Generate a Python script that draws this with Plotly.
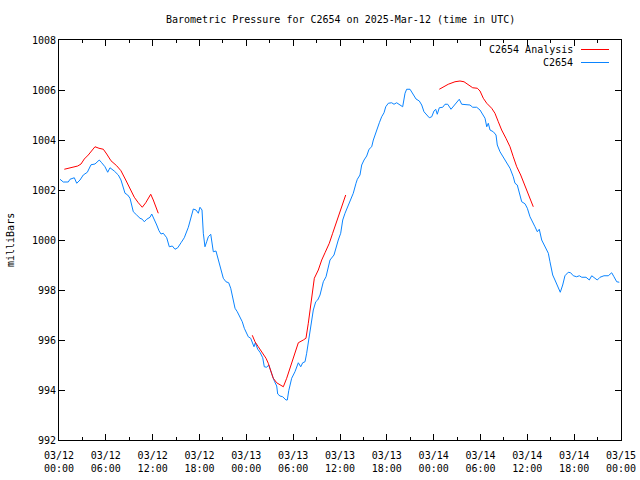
import datetime as dt
import plotly.graph_objects as go

# ---- data (hours after 2025-03-12 00:00 UTC, pressure in mbar) ----
station_hours = [0.13, 0.55, 1.19, 1.41, 1.96, 2.27, 2.69, 3.11, 3.63, 4.10, 4.61, 5.16, 5.47, 5.89,
                 6.24, 6.53, 7.08, 7.60, 7.94, 8.24, 8.46, 8.80, 9.10, 9.31, 9.52, 9.95, 10.38, 10.67,
                 10.93, 11.24, 11.66, 11.88, 12.21, 12.52, 12.81, 13.07, 13.36, 13.80, 14.13, 14.52,
                 14.86, 15.21, 15.63, 16.05, 16.57, 17.00, 17.21, 17.55, 17.85, 18.06, 18.32, 18.49,
                 18.70, 18.92, 19.13, 19.44, 19.60, 19.77, 20.11, 20.41, 20.72, 21.05, 21.39, 21.74,
                 22.00, 22.25, 22.55, 22.84, 23.19, 23.48, 23.74, 24.05, 24.25, 24.56, 24.82, 24.98,
                 25.15, 25.46, 25.75, 26.10, 26.30, 26.61, 26.87, 27.12, 27.38, 27.63, 27.89, 28.02,
                 28.31, 28.66, 28.86, 29.08, 29.25, 29.43, 29.81, 30.23, 30.66, 30.97, 31.22, 31.52,
                 31.73, 31.94, 32.16, 32.37, 32.58, 32.89, 33.14, 33.44, 33.66, 33.86, 34.21, 34.50,
                 34.72, 35.23, 35.45, 35.78, 36.09, 36.35, 36.64, 36.93, 37.28, 37.70, 38.05, 38.22,
                 38.56, 38.78, 39.08, 39.42, 39.72, 40.06, 40.27, 40.48, 40.78, 41.04, 41.34, 41.64,
                 41.86, 42.19, 42.62, 42.92, 43.26, 43.60, 44.03, 44.33, 44.54, 44.97, 45.31, 45.74,
                 46.16, 46.47, 46.76, 47.02, 47.44, 47.75, 48.04, 48.26, 48.46, 48.72, 49.16, 49.45,
                 49.80, 50.22, 50.73, 51.28, 51.59, 52.14, 52.65, 53.00, 53.51, 53.94, 54.28, 54.58,
                 54.80, 55.00, 55.22, 55.64, 55.99, 56.15, 56.50, 56.92, 57.36, 57.78, 58.20, 58.42,
                 58.71, 58.97, 59.28, 59.70, 60.00, 60.34, 60.69, 60.98, 61.28, 61.53, 61.84, 62.26,
                 62.69, 62.90, 63.25, 63.54, 63.84, 64.22, 64.53, 64.82, 65.24, 65.55, 65.89, 66.32,
                 66.66, 66.97, 67.52, 67.94, 68.25, 68.67, 68.96, 69.31, 69.82, 70.37, 70.81, 71.10,
                 71.45, 71.78]
station_mbar = [1002.43, 1002.32, 1002.32, 1002.43, 1002.49, 1002.27, 1002.40, 1002.60, 1002.71,
                1003.01, 1003.04, 1003.20, 1003.09, 1002.93, 1002.71, 1002.89, 1002.76, 1002.60,
                1002.40, 1002.13, 1001.87, 1001.80, 1001.67, 1001.40, 1001.13, 1001.00, 1000.87,
                1000.83, 1000.73, 1000.83, 1000.91, 1001.04, 1000.84, 1000.60, 1000.37, 1000.24,
                1000.27, 1000.09, 999.73, 999.76, 999.63, 999.69, 999.89, 1000.09, 1000.51,
                1001.03, 1001.24, 1001.20, 1001.07, 1001.31, 1001.20, 1000.27, 999.73, 999.93,
                1000.13, 1000.23, 999.87, 999.53, 999.56, 999.20, 998.80, 998.47, 998.33, 998.29,
                998.07, 997.67, 997.27, 997.13, 996.89, 996.73, 996.47, 996.29, 996.13, 996.07,
                995.87, 995.73, 995.89, 995.63, 995.51, 995.29, 994.93, 994.91, 995.00, 994.73,
                994.53, 994.33, 994.16, 993.84, 993.76, 993.73, 993.67, 993.60, 993.60, 993.97,
                994.47, 994.73, 995.09, 994.93, 995.09, 995.13, 995.47, 995.87, 996.33, 996.80,
                997.20, 997.53, 997.60, 997.80, 998.16, 998.33, 998.53, 998.93, 999.20, 999.40,
                999.67, 1000.00, 1000.27, 1000.80, 1001.07, 1001.27, 1001.53, 1001.87, 1002.27,
                1002.43, 1002.60, 1003.00, 1003.20, 1003.36, 1003.63, 1003.73, 1004.00, 1004.20,
                1004.53, 1004.69, 1004.93, 1005.09, 1005.33, 1005.47, 1005.49, 1005.43, 1005.49,
                1005.43, 1005.33, 1005.87, 1006.03, 1006.03, 1005.83, 1005.64, 1005.56, 1005.40,
                1005.13, 1005.03, 1004.89, 1004.93, 1005.16, 1005.23, 1005.03, 1005.29, 1005.31,
                1005.43, 1005.43, 1005.23, 1005.43, 1005.63, 1005.43, 1005.40, 1005.40, 1005.31,
                1005.31, 1005.20, 1005.00, 1004.87, 1004.53, 1004.67, 1004.40, 1004.33, 1004.20,
                1003.80, 1003.53, 1003.33, 1003.11, 1002.87, 1002.53, 1002.27, 1002.20, 1001.87,
                1001.53, 1001.45, 1001.27, 1000.93, 1000.67, 1000.53, 1000.33, 1000.43, 1000.00,
                999.73, 999.47, 999.13, 998.60, 998.40, 998.20, 997.91, 998.20, 998.57, 998.71,
                998.69, 998.57, 998.53, 998.57, 998.51, 998.51, 998.40, 998.57, 998.47, 998.40,
                998.51, 998.57, 998.57, 998.69, 998.53, 998.33, 998.31]

analysis1_hours = [0.68, 1.11, 1.83, 2.40, 2.82, 3.24, 3.75, 4.19, 4.61, 5.12, 5.68, 6.11, 6.66,
                   7.39, 7.94, 8.55, 9.10, 9.65, 10.16, 10.67, 11.11, 11.75, 12.08, 12.43, 12.72]
analysis1_mbar = [1002.83, 1002.87, 1002.91, 1002.96, 1003.04, 1003.24, 1003.40, 1003.57, 1003.73,
                  1003.67, 1003.63, 1003.44, 1003.17, 1002.97, 1002.77, 1002.40, 1002.07, 1001.71,
                  1001.49, 1001.31, 1001.49, 1001.83, 1001.60, 1001.31, 1001.07]
analysis2_hours = [24.76, 25.11, 25.53, 26.10, 26.52, 26.81, 27.12, 27.45, 27.89, 28.31, 28.74,
                   29.17, 29.68, 30.11, 30.66, 31.30, 31.64, 31.94, 32.16, 32.45, 32.71, 33.22,
                   33.66, 34.08, 34.63, 35.06, 35.58, 36.09, 36.42, 36.73]
analysis2_mbar = [996.19, 995.93, 995.73, 995.49, 995.27, 995.07, 994.73, 994.47, 994.29, 994.20,
                  994.13, 994.47, 994.96, 995.40, 995.89, 996.00, 996.07, 996.67, 997.20, 997.93,
                  998.47, 998.80, 999.20, 999.49, 999.87, 1000.27, 1000.73, 1001.20, 1001.53,
                  1001.80]
analysis3_hours = [48.72, 49.23, 49.87, 50.73, 51.37, 51.89, 52.44, 53.00, 53.59, 53.94, 54.36,
                   54.80, 55.43, 55.85, 56.28, 56.71, 57.26, 57.78, 58.20, 58.64, 59.15, 59.57,
                   60.00, 60.34, 60.76]
analysis3_mbar = [1006.03, 1006.13, 1006.23, 1006.33, 1006.36, 1006.33, 1006.20, 1006.09, 1006.07,
                  1005.96, 1005.67, 1005.47, 1005.27, 1005.07, 1004.73, 1004.40, 1004.07, 1003.73,
                  1003.33, 1002.93, 1002.60, 1002.27, 1001.93, 1001.69, 1001.33]

y_ticks = [992, 994, 996, 998, 1000, 1002, 1004, 1006, 1008]
title_text = "Barometric Pressure for C2654 on 2025-Mar-12 (time in UTC)"
y_title = "milliBars"
legend_names = ["C2654 Analysis", "C2654"]
base = dt.datetime(2025, 3, 12, 0, 0)


def to_time(hours):
    return [base + dt.timedelta(hours=h) for h in hours]


red_x, red_y = [], []
for hs, vs in [(analysis1_hours, analysis1_mbar), (analysis2_hours, analysis2_mbar),
               (analysis3_hours, analysis3_mbar)]:
    red_x += to_time(hs) + [None]
    red_y += vs + [None]

FONT = "DejaVu Sans Mono"
RED = "#ff0000"
BLUE = "#0a84ff"

fig = go.Figure()
fig.add_trace(go.Scatter(x=to_time(station_hours), y=station_mbar, mode="lines",
                         line=dict(color=BLUE, width=1), name=legend_names[1]))
fig.add_trace(go.Scatter(x=red_x, y=red_y, mode="lines", connectgaps=False,
                         line=dict(color=RED, width=1), name=legend_names[0]))

fig.update_layout(
    width=640, height=480,
    margin=dict(l=59, r=19, t=40, b=40, autoexpand=False),
    paper_bgcolor="white", plot_bgcolor="white",
    showlegend=False,
    font=dict(family=FONT, size=10, color="black"),
)
fig.update_xaxes(
    type="date", automargin=False,
    range=[base, base + dt.timedelta(hours=72)],
    dtick=6 * 3600 * 1000, tick0=base,
    tickformat="%m/%d<br>%H:%M",
    ticks="inside", ticklen=6, tickcolor="black", ticklabelstandoff=6,
    minor=dict(dtick=3 * 3600 * 1000, ticks="inside", ticklen=3, tickcolor="black"),
    showline=True, linecolor="black", linewidth=1, mirror="allticks",
    showgrid=False, zeroline=False,
    tickfont=dict(family=FONT, size=10),
)
fig.update_yaxes(
    automargin=False,
    range=[992, 1008], tickvals=y_ticks, ticktext=[str(v) for v in y_ticks],
    ticks="inside", ticklen=6, tickcolor="black",
    showline=True, linecolor="black", linewidth=1, mirror="allticks",
    showgrid=False, zeroline=False,
    tickfont=dict(family=FONT, size=10),
)

annotations = [
    dict(text=title_text, xref="paper", yref="paper", x=0.5, y=(440 - 19) / 400,
         xanchor="center", yanchor="middle", showarrow=False, font=dict(family=FONT, size=10)),
    dict(text=y_title, xref="paper", yref="paper", x=(10 - 59) / 562, y=0.5, textangle=-90,
         xanchor="center", yanchor="middle", showarrow=False, font=dict(family=FONT, size=10)),
]
shapes = []
for i, (name, col) in enumerate([(legend_names[0], RED), (legend_names[1], BLUE)]):
    ypix = 49.5 + 13 * i
    yp = (440 - ypix) / 400
    annotations.append(dict(text=name, xref="paper", yref="paper", x=(575 - 59) / 562, y=yp,
                            xanchor="right", yanchor="middle", showarrow=False,
                            font=dict(family=FONT, size=10)))
    shapes.append(dict(type="line", xref="paper", yref="paper",
                       x0=(581 - 59) / 562, x1=(609 - 59) / 562, y0=yp, y1=yp,
                       line=dict(color=col, width=1)))
fig.update_layout(annotations=annotations, shapes=shapes)

fig.write_html("out.html", config={"displayModeBar": False},
               post_script="document.body.style.margin='0';document.body.style.overflow='hidden';")
